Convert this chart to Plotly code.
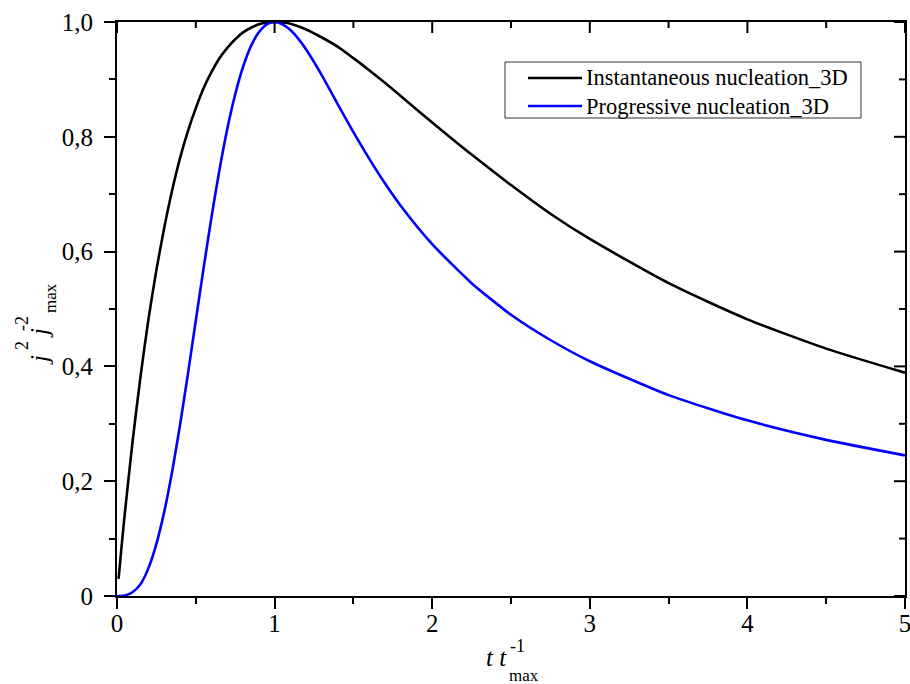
import plotly.graph_objects as go

# ---- data ----
t_inst = [0.01, 0.03, 0.05, 0.1, 0.15, 0.2, 0.25, 0.3, 0.35, 0.4, 0.45, 0.5, 0.55, 0.6, 0.65, 0.7, 0.75,
          0.8, 0.85, 0.9, 0.95, 1.0, 1.05, 1.1, 1.2, 1.3, 1.4, 1.5, 1.6, 1.7, 1.8, 2.0, 2.25, 2.5,
          2.75, 3.0, 3.5, 4.0, 4.5, 5.0]
j_inst = [0.030, 0.089, 0.145, 0.272, 0.384, 0.483, 0.568, 0.642, 0.707, 0.763, 0.810, 0.850, 0.885, 0.913,
          0.937, 0.955, 0.970, 0.982, 0.990, 0.996, 0.999, 1.000, 0.999, 0.997, 0.987, 0.973, 0.957, 0.937,
          0.916, 0.894, 0.871, 0.825, 0.769, 0.716, 0.666, 0.622, 0.545, 0.482, 0.431, 0.389]

t_prog = [0.0, 0.05, 0.1, 0.15, 0.2, 0.25, 0.3, 0.35, 0.4, 0.45, 0.5, 0.55, 0.6, 0.65, 0.7, 0.75, 0.8,
          0.85, 0.9, 0.95, 1.0, 1.05, 1.1, 1.15, 1.2, 1.3, 1.4, 1.5, 1.6, 1.7, 1.8, 2.0, 2.25, 2.5,
          2.75, 3.0, 3.5, 4.0, 4.5, 5.0]
j_prog = [0.000, 0.001, 0.007, 0.021, 0.049, 0.091, 0.147, 0.217, 0.298, 0.387, 0.480, 0.572, 0.661, 0.742,
          0.814, 0.874, 0.922, 0.958, 0.982, 0.996, 1.000, 0.996, 0.986, 0.971, 0.952, 0.907, 0.857, 0.808,
          0.762, 0.719, 0.680, 0.613, 0.545, 0.490, 0.446, 0.409, 0.350, 0.306, 0.272, 0.245]

series_names = ["Instantaneous nucleation_3D", "Progressive nucleation_3D"]
series_colors = ["#000000", "#0000FF"]

x_tickvals = [0, 1, 2, 3, 4, 5]
x_ticktext = ["0", "1", "2", "3", "4", "5"]
y_tickvals = [0, 0.2, 0.4, 0.6, 0.8, 1.0]
y_ticktext = ["0", "0,2", "0,4", "0,6", "0,8", "1,0"]

FONT = "Liberation Serif, Times New Roman, serif"
W, H = 910, 684
PL, PT, PR, PB = 117, 22, 905, 596   # plot area in page pixels
L, T, R, B = PL, PT, W - PR, H - PB
PW, PH = PR - PL, PB - PT
MAJ_LEN, MIN_LEN = 11, 6


def px_x(p):
    return (p - PL) / PW


def px_y(p):
    return (PB - p) / PH


def midpoints(vals):
    return [(a + b) / 2 for a, b in zip(vals[:-1], vals[1:])]


fig = go.Figure()
fig.add_trace(go.Scatter(x=t_inst, y=j_inst, mode="lines", name=series_names[0],
                         line=dict(color=series_colors[0], width=2.6, shape="spline", smoothing=0.6),
                         showlegend=False))
fig.add_trace(go.Scatter(x=t_prog, y=j_prog, mode="lines", name=series_names[1],
                         line=dict(color=series_colors[1], width=2.6, shape="spline", smoothing=0.6),
                         showlegend=False))

axis_common = dict(showgrid=False, zeroline=False, showline=True, mirror=True, linecolor="black",
                   linewidth=2, tickcolor="black", tickwidth=2, ticklen=MAJ_LEN, ticks="outside",
                   automargin=False, ticklabeloverflow="allow",
                   tickfont=dict(family=FONT, size=25, color="black"))

fig.update_layout(
    width=W, height=H,
    margin=dict(l=L, r=R, t=T, b=B, autoexpand=False),
    paper_bgcolor="white", plot_bgcolor="white",
    showlegend=False,
    xaxis=dict(range=[0, 5], tickmode="array", tickvals=x_tickvals, ticktext=x_ticktext,
               ticklabelstandoff=-7,
               minor=dict(tick0=0, dtick=0.5, ticks="outside", ticklen=MIN_LEN, tickwidth=2, tickcolor="black"),
               **axis_common),
    yaxis=dict(range=[0, 1.0], tickmode="array", tickvals=y_tickvals, ticktext=y_ticktext,
               ticklabelstandoff=6,
               minor=dict(tick0=0, dtick=0.1, ticks="outside", ticklen=MIN_LEN, tickwidth=2, tickcolor="black"),
               **axis_common),
)

shapes = []
# mirrored (inward) ticks on the top and right frame edges, placed through the axis scales
for vals, ln in ((x_tickvals, MAJ_LEN), (midpoints(x_tickvals), MIN_LEN)):
    for v in vals:
        shapes.append(dict(type="line", xref="x", yref="paper", x0=v, x1=v, y0=1, y1=1 - ln / PH,
                           line=dict(color="black", width=2)))
for vals, ln in ((y_tickvals, MAJ_LEN), (midpoints(y_tickvals), MIN_LEN)):
    for v in vals:
        shapes.append(dict(type="line", xref="paper", yref="y", x0=1, x1=1 - ln / PW, y0=v, y1=v,
                           line=dict(color="black", width=2)))

ann = []


def add_text(text, xp, yp, size, angle=0, xanchor="center"):
    ann.append(dict(text=text, x=px_x(xp), y=px_y(yp), xref="paper", yref="paper",
                    xanchor=xanchor, yanchor="middle", showarrow=False, textangle=angle,
                    font=dict(family=FONT, size=size, color="black")))


# x-axis title: t t^-1_max (stacked sup/sub)
add_text("<i>t t</i>", 496, 657, 25)
add_text("-1", 517, 646, 18)
add_text("max", 524, 675, 17)

# y-axis title: j^2 j^-2_max (rotated)
add_text("<i>j</i>", 39, 360, 25, angle=-90)
add_text("2", 22, 346, 18, angle=-90)
add_text("<i>j</i>", 39, 333, 25, angle=-90)
add_text("-2", 22, 324, 18, angle=-90)
add_text("max", 50, 298, 17, angle=-90)

# legend (drawn manually to match the long line samples)
shapes.append(dict(type="rect", xref="paper", yref="paper", x0=px_x(505), x1=px_x(861),
                   y0=px_y(62), y1=px_y(118), line=dict(color="#333333", width=1), fillcolor="white"))
leg_y = [78, 106]
for name, color, ly in zip(series_names, series_colors, leg_y):
    shapes.append(dict(type="line", xref="paper", yref="paper", x0=px_x(528), x1=px_x(582),
                       y0=px_y(ly), y1=px_y(ly), line=dict(color=color, width=2.6)))
    add_text(name, 584, ly, 22.5, xanchor="left")

fig.update_layout(annotations=ann, shapes=shapes)
fig.write_html("out.html", config={"displayModeBar": False},
               post_script="document.body.style.margin='0';document.body.style.overflow='hidden';")
